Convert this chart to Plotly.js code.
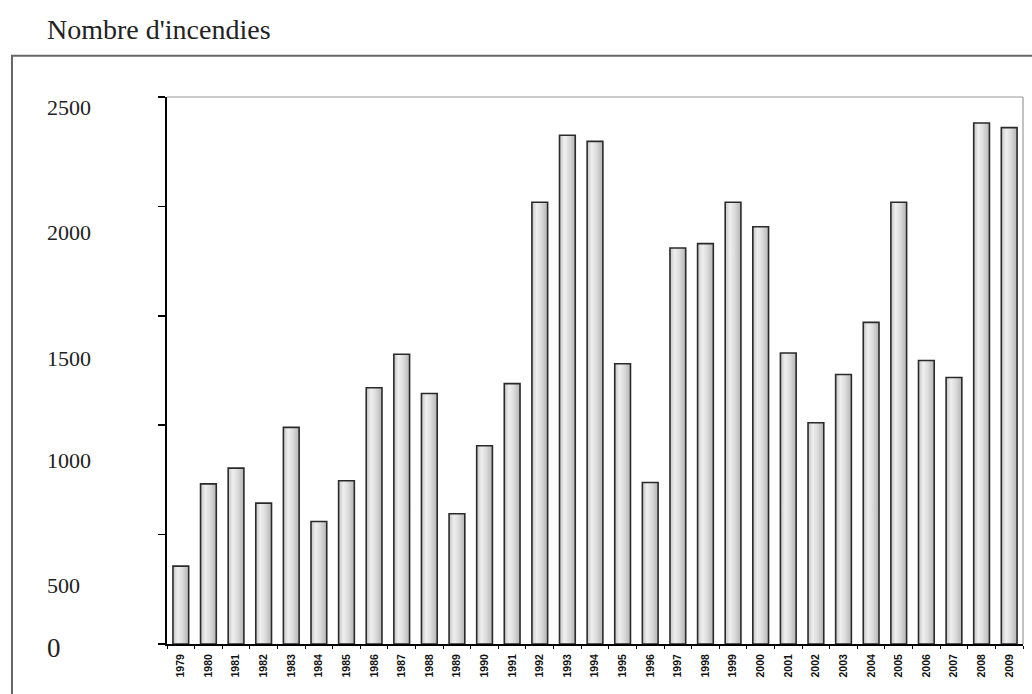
<!DOCTYPE html>
<html>
<head>
<meta charset="utf-8">
<script src="https://cdn.plot.ly/plotly-3.0.1.min.js"></script>
<style>
  html, body { margin: 0; padding: 0; background: #fff; }
  #chart { width: 1032px; height: 694px; }
</style>
</head>
<body>
<div id="chart"></div>
<script>
// ---- data ----
const years = ['1979','1980','1981','1982','1983','1984','1985','1986','1987','1988',
               '1989','1990','1991','1992','1993','1994','1995','1996','1997','1998',
               '1999','2000','2001','2002','2003','2004','2005','2006','2007','2008','2009'];
const fires = [356, 732, 804, 644, 990, 560, 746, 1171, 1324, 1145,
               595, 906, 1190, 2019, 2325, 2297, 1281, 738, 1810, 1830,
               2019, 1907, 1330, 1011, 1232, 1470, 2019, 1296, 1218, 2381, 2360];
const yTickVals = [0, 500, 1000, 1500, 2000, 2500];
const yLabels = ['0', '500', '1000', '1500', '2000', '2500'];
const titleText = "Nombre d'incendies";

// ---- layout helpers (positions of the label texts as drawn in the original) ----
const labelPaperY = [-0.008, 0.107, 0.336, 0.522, 0.753, 0.981];
const labelSizes = [27, 22, 22, 22, 22, 22];

const annotations = yLabels.map((t, i) => ({
  text: t, xref: 'paper', yref: 'paper', x: -0.1425, y: labelPaperY[i],
  xanchor: 'left', yanchor: 'middle', showarrow: false,
  font: { family: 'Liberation Serif, Times New Roman, serif', size: labelSizes[i], color: '#222' }
}));

const trace = {
  type: 'bar',
  x: years,
  y: fires,
  marker: { color: '#d9d9d9', line: { color: '#2a2a2a', width: 1.6 } },
  hoverinfo: 'x+y'
};

const layout = {
  width: 1032, height: 694,
  margin: { l: 167, r: 9, t: 97, b: 50, pad: 0 },
  paper_bgcolor: '#fff', plot_bgcolor: '#fff',
  showlegend: false,
  bargap: 0.43,
  title: {
    text: titleText, x: 47 / 1032, xanchor: 'left', xref: 'container',
    y: 1 - 29 / 694, yanchor: 'middle', yref: 'container',
    font: { family: 'Liberation Serif, Times New Roman, serif', size: 28, color: '#222' }
  },
  xaxis: {
    type: 'category',
    range: [-0.5, years.length - 0.5],
    showline: true, linecolor: '#000', linewidth: 2,
    ticks: 'outside', tickson: 'boundaries', ticklen: 3, tickwidth: 1, tickcolor: '#000',
    tickangle: -90, ticklabelstandoff: 4,
    tickfont: { family: 'Liberation Sans, Arial, sans-serif', size: 10.5, color: '#111', weight: 'bold' },
    showgrid: false, zeroline: false, fixedrange: true
  },
  yaxis: {
    range: [0, 2500],
    tickvals: yTickVals,
    showticklabels: false,
    showline: true, linecolor: '#000', linewidth: 2,
    ticks: 'outside', ticklen: 7, tickwidth: 1.5, tickcolor: '#000',
    showgrid: false, zeroline: false, fixedrange: true
  },
  shapes: [
    // outer frame
    { type: 'rect', xref: 'paper', yref: 'paper', x0: -0.1811, x1: 1.2, y0: -0.3, y1: 1.0755,
      line: { color: '#666', width: 2 }, fillcolor: 'rgba(0,0,0,0)', layer: 'below' },
    // plot area top and right borders
    { type: 'line', xref: 'paper', yref: 'paper', x0: 0, x1: 1, y0: 1, y1: 1,
      line: { color: '#999', width: 1.2 } },
    { type: 'line', xref: 'paper', yref: 'paper', x0: 1, x1: 1, y0: 0, y1: 1,
      line: { color: '#999', width: 1.2 } }
  ],
  annotations: annotations
};

Plotly.newPlot('chart', [trace], layout, { staticPlot: true, displayModeBar: false }).then(gd => {
  try {
    const svg = gd.querySelector('.main-svg');
    const NS = 'http://www.w3.org/2000/svg';
    let defs = svg.querySelector('defs');
    if (!defs) { defs = document.createElementNS(NS, 'defs'); svg.insertBefore(defs, svg.firstChild); }
    const g = document.createElementNS(NS, 'linearGradient');
    g.setAttribute('id', 'barGrad');
    g.setAttribute('x1', '0'); g.setAttribute('x2', '1');
    g.setAttribute('y1', '0'); g.setAttribute('y2', '0');
    [['0%', '#c4c4c4'], ['30%', '#efefef'], ['60%', '#dcdcdc'], ['100%', '#b4b4b4']].forEach(([o, c]) => {
      const s = document.createElementNS(NS, 'stop');
      s.setAttribute('offset', o); s.setAttribute('stop-color', c);
      g.appendChild(s);
    });
    defs.appendChild(g);
    gd.querySelectorAll('.bars .point path').forEach(p => { p.style.fill = 'url(#barGrad)'; });
  } catch (e) {}
});
</script>
</body>
</html>
